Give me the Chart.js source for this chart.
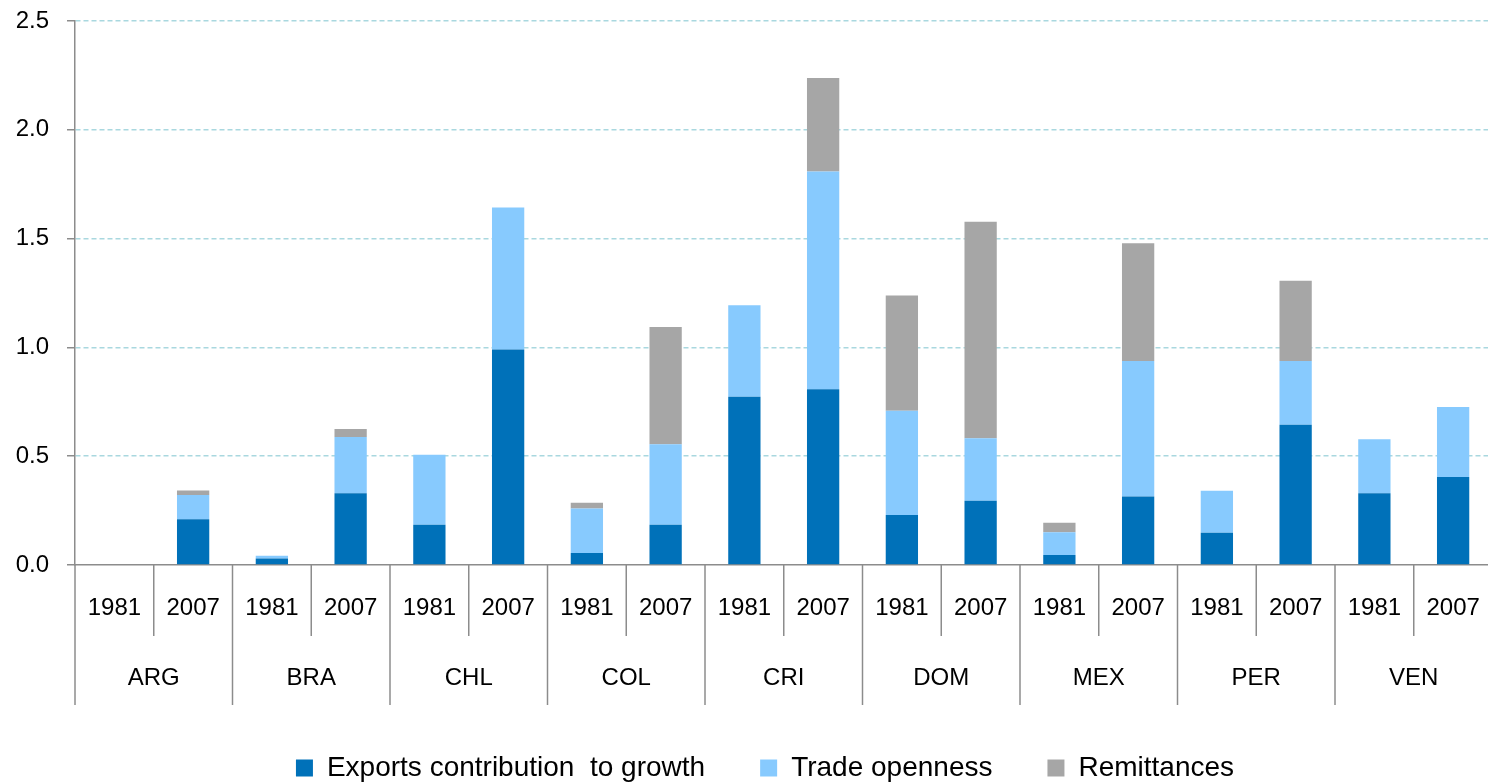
<!DOCTYPE html>
<html><head><meta charset="utf-8">
<script src="https://cdn.jsdelivr.net/npm/chart.js@4.4.1/dist/chart.umd.min.js"></script>
<style>
html,body{margin:0;padding:0;overflow:hidden;background:#fff;width:1488px;height:783px}
#wrap{position:absolute;left:0;top:0;width:1530px;height:792px}
</style></head>
<body><div id="wrap"><canvas id="c" width="1530" height="792"></canvas></div>
<script>
const countries = ['ARG','BRA','CHL','COL','CRI','DOM','MEX','PER','VEN'];
const years = ['1981','2007'];
const exportsContribution = [0, 0.21, 0.03, 0.33, 0.185, 0.99, 0.055, 0.185, 0.773, 0.808, 0.23, 0.295, 0.046, 0.315, 0.148, 0.645, 0.33, 0.404];
const tradeOpenness      = [0, 0.112, 0.012, 0.258, 0.322, 0.653, 0.205, 0.37, 0.421, 1.0, 0.479, 0.287, 0.104, 0.622, 0.193, 0.293, 0.248, 0.322];
const remittances        = [0, 0.02, 0, 0.037, 0, 0, 0.026, 0.539, 0, 0.43, 0.53, 0.996, 0.044, 0.542, 0, 0.368, 0, 0];
const yTicks = [0, 0.5, 1.0, 1.5, 2.0, 2.5];

const labels = countries.flatMap(() => years);
const FONT = "'Liberation Sans', Arial, sans-serif";
Chart.defaults.font.family = FONT;

const groupAxisPlugin = {
  id: 'groupAxis',
  afterDraw(chart) {
    const x = chart.scales.x;
    const ctx = chart.ctx;
    const base = chart.chartArea.bottom;
    const n = labels.length;
    const slot = x.getPixelForValue(1) - x.getPixelForValue(0);
    ctx.save();
    ctx.strokeStyle = '#8c8c8c';
    ctx.lineWidth = 1.5;
    for (let i = 0; i <= n; i++) {
      const px = (i < n ? x.getPixelForValue(i) : x.getPixelForValue(n - 1) + slot) - slot / 2;
      const len = i % 2 === 0 ? 140 : 71;
      ctx.beginPath();
      ctx.moveTo(px, base);
      ctx.lineTo(px, base + len);
      ctx.stroke();
    }
    ctx.fillStyle = '#000';
    ctx.font = '24px ' + FONT;
    ctx.textAlign = 'center';
    ctx.textBaseline = 'middle';
    countries.forEach((c, g) => {
      const cx = (x.getPixelForValue(2 * g) + x.getPixelForValue(2 * g + 1)) / 2;
      ctx.fillText(c, cx, base + 113);
    });
    ctx.restore();
  }
};

new Chart(document.getElementById('c'), {
  type: 'bar',
  data: {
    labels: labels,
    datasets: [
      { label: 'Exports contribution  to growth', data: exportsContribution, backgroundColor: '#0071B9' },
      { label: 'Trade openness', data: tradeOpenness, backgroundColor: '#87CAFE' },
      { label: 'Remittances', data: remittances, backgroundColor: '#A6A6A6' }
    ]
  },
  options: {
    responsive: false,
    devicePixelRatio: 1,
    animation: false,
    layout: { padding: { top: 21, left: 0, right: 0, bottom: 0 } },
    datasets: { bar: { categoryPercentage: 1.0, barPercentage: 0.41, borderWidth: 0 } },
    scales: {
      x: {
        stacked: true,
        offset: true,
        grid: { display: false, drawTicks: false },
        border: { display: true, color: '#8c8c8c', width: 1.5 },
        ticks: { color: '#000', font: { size: 24 }, padding: 29, maxRotation: 0, autoSkip: false },
        afterFit(s) { s.height = 134; s.paddingLeft = 0; s.paddingRight = 0; }
      },
      y: {
        stacked: true,
        min: 0, max: 2.5,
        afterBuildTicks(s) { s.ticks = yTicks.map(v => ({ value: v })); },
        grid: {
          color: c => (c.tick && c.tick.value === 0) ? 'rgba(0,0,0,0)' : '#A9D8DF',
          lineWidth: 1.5,
          tickColor: '#8c8c8c',
          tickLength: 8,
          drawTicks: true
        },
        border: { display: true, color: '#8c8c8c', width: 1.5, dash: [5, 3] },
        ticks: { color: '#000', font: { size: 24 }, padding: 18, callback: v => Number(v).toFixed(1) },
        afterFit(s) { s.width = 75; s.paddingTop = 0; s.paddingBottom = 0; }
      },
      y2: {
        position: 'right',
        display: true,
        grid: { display: false, drawTicks: false },
        border: { display: false },
        ticks: { display: false },
        afterFit(s) { s.width = 37.5; s.paddingTop = 0; s.paddingBottom = 0; }
      }
    },
    plugins: {
      legend: {
        position: 'bottom',
        labels: { color: '#000', font: { size: 28 }, boxWidth: 17, boxHeight: 17, padding: 55 }
      },
      tooltip: { enabled: false }
    }
  },
  plugins: [groupAxisPlugin]
});
</script>
</body></html>
